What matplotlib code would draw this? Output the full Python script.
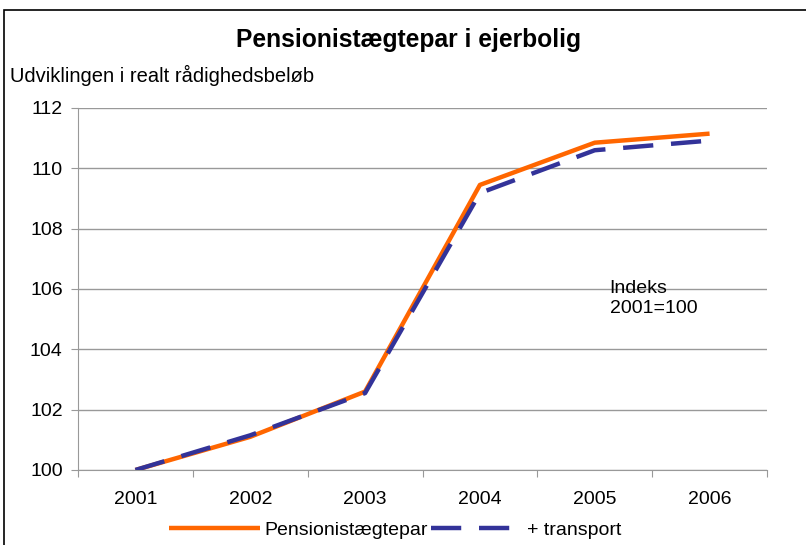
import numpy as np
import matplotlib
matplotlib.use('agg')
import matplotlib.pyplot as plt
from matplotlib.patches import Rectangle

plt.rcParams['font.family'] = ['Liberation Sans', 'DejaVu Sans']

# data
years = ["2001", "2002", "2003", "2004", "2005", "2006"]
pensionist = [100.0, 101.1, 102.6, 109.45, 110.85, 111.15]
transport = [100.0, 101.15, 102.55, 109.18, 110.6, 110.92]

fig = plt.figure(figsize=(8.06, 5.45), dpi=100)
ax = fig.add_axes([78 / 806, 75 / 545, (767 - 78) / 806, (470 - 108) / 545])

x = np.arange(len(years))
ax.plot(x, pensionist, color='#FF6600', lw=3.2, solid_capstyle='butt',
        label='Pensionistægtepar', zorder=3)
ax.plot(x, transport, color='#333399', lw=3.2, dashes=(6.8, 4), dash_capstyle='butt',
        label='+ transport', zorder=4)

ax.set_xlim(-0.5, len(years) - 0.5)
ax.set_ylim(100, 112)
ax.set_yticks(np.arange(100, 113, 2))
ax.yaxis.grid(True, color='#999999', lw=1)
ax.set_axisbelow(True)

# category boundaries as major ticks, labels at the centres
ax.set_xticks(np.arange(-0.5, len(years), 1))
ax.set_xticklabels([])
ax.set_xticks(x, minor=True)
ax.set_xticklabels(years, minor=True)
ax.tick_params(axis='x', which='minor', length=0, pad=15, labelsize=14)
ax.tick_params(axis='x', which='major', length=5, color='#999999')
ax.tick_params(axis='y', length=5, color='#999999', pad=6, labelsize=14)

for s in ['top', 'right']:
    ax.spines[s].set_visible(False)
for s in ['left', 'bottom']:
    ax.spines[s].set_color('#999999')

ax.text(4.13, 106.3, "Indeks\n2001=100", fontsize=14, va='top', ha='left',
        linespacing=1.2)

fig.text(0.507, 0.927, "Pensionistægtepar i ejerbolig", fontsize=17.7,
         fontweight='bold', ha='center', va='center')
fig.text(10 / 806, 0.862, "Udviklingen i realt rådighedsbeløb", fontsize=14.5,
         ha='left', va='center')

fig.legend(loc='center', bbox_to_anchor=(0.49, 0.028), ncol=2, frameon=False,
           fontsize=14, handlelength=4.7, handletextpad=0.2, columnspacing=0.2)

# frame around the chart (runs off the right and bottom edges)
fig.patches.append(Rectangle((4 / 806, -0.1), 1.2, 1.1 - 10 / 545,
                             transform=fig.transFigure, fill=False,
                             edgecolor='black', lw=1.2))

fig.savefig('out.png', dpi=100)
